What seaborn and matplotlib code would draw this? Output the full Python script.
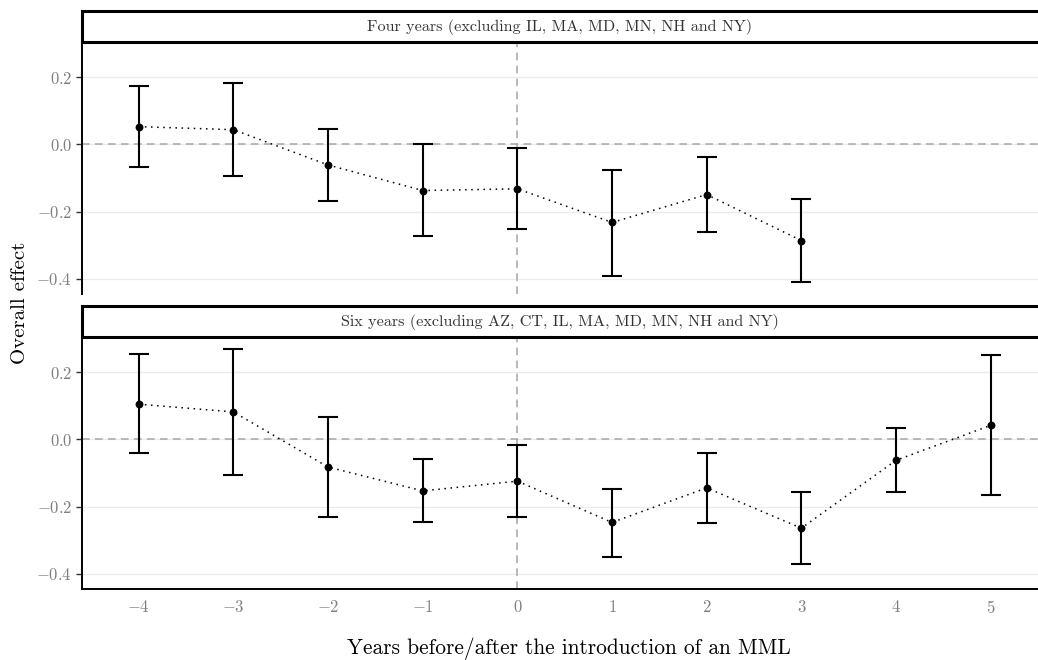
import matplotlib
matplotlib.use("Agg")
import matplotlib.pyplot as plt
import seaborn as sns
import numpy as np
import pandas as pd
from matplotlib.patches import Rectangle

sns.set_theme(style="white")
plt.rcParams["font.family"] = ["cmr10", "DejaVu Serif"]
plt.rcParams["mathtext.fontset"] = "cm"
plt.rcParams["axes.formatter.use_mathtext"] = True
plt.rcParams["axes.unicode_minus"] = True

# Event-time estimates and confidence bounds
years_four = [-4, -3, -2, -1, 0, 1, 2, 3]
est_four = [0.053, 0.044, -0.061, -0.137, -0.132, -0.232, -0.149, -0.286]
lo_four = [-0.067, -0.093, -0.167, -0.273, -0.253, -0.391, -0.261, -0.408]
hi_four = [0.174, 0.182, 0.046, 0.000, -0.011, -0.076, -0.037, -0.163]

years_six = [-4, -3, -2, -1, 0, 1, 2, 3, 4, 5]
est_six = [0.105, 0.082, -0.082, -0.153, -0.124, -0.247, -0.144, -0.264, -0.062, 0.042]
lo_six = [-0.041, -0.105, -0.230, -0.247, -0.232, -0.351, -0.249, -0.372, -0.157, -0.166]
hi_six = [0.254, 0.269, 0.067, -0.059, -0.016, -0.146, -0.039, -0.157, 0.033, 0.251]

panel_titles = [
    "Four years (excluding IL, MA, MD, MN, NH and NY)",
    "Six years (excluding AZ, CT, IL, MA, MD, MN, NH and NY)",
]
x_ticks = [-4, -3, -2, -1, 0, 1, 2, 3, 4, 5]
y_ticks = [-0.4, -0.2, 0.0, 0.2]

panels = [
    pd.DataFrame({"year": years_four, "est": est_four, "lo": lo_four, "hi": hi_four}),
    pd.DataFrame({"year": years_six, "est": est_six, "lo": lo_six, "hi": hi_six}),
]

W, H = 1038, 660
fig = plt.figure(figsize=(W / 100, H / 100), dpi=100)

def fx(px):
    return px / W

def fy(py):
    return 1 - py / H

left, right = 82, 1038
panel_px = [(42, 294), (337, 589)]
strip_px = [(11, 42), (306, 337)]

tick_grey = "#7f7f7f"
axes = []
for i, (df, (top, bot), (stop, sbot), title) in enumerate(
        zip(panels, panel_px, strip_px, panel_titles)):
    ax = fig.add_axes([fx(left), fy(bot), fx(right - left), (bot - top) / H])
    axes.append(ax)
    ax.set_xlim(-4.6, 5.5)
    ax.set_ylim(-0.445, 0.305)

    # Light horizontal grid
    for yt in y_ticks:
        ax.axhline(yt, color="#ebebeb", lw=0.9, zorder=0)
    # Reference lines
    ax.axhline(0, color="#a6a6a6", lw=1.1, ls=(0, (5, 3.5)), zorder=1)
    ax.axvline(0, color="#a6a6a6", lw=1.1, ls=(0, (5, 3.5)), zorder=1)

    # Dotted path through the point estimates
    sns.lineplot(data=df, x="year", y="est", ax=ax, color="black", lw=1.1,
                 linestyle=(0, (1, 3)), sort=True, zorder=3)
    # Confidence intervals
    ax.errorbar(df["year"], df["est"],
                yerr=[df["est"] - df["lo"], df["hi"] - df["est"]],
                fmt="none", ecolor="black", elinewidth=1.5,
                capsize=7.5, capthick=1.5, zorder=4)
    sns.scatterplot(data=df, x="year", y="est", ax=ax, color="black", s=32,
                    edgecolor="black", linewidth=0, zorder=5)

    ax.set_yticks(y_ticks)
    ax.set_yticklabels(["$-0.4$", "$-0.2$", "$0.0$", "$0.2$"])
    ax.set_xticks(x_ticks)
    if i == 1:
        ax.set_xticklabels([f"${t}$" if t >= 0 else f"$-{abs(t)}$" for t in x_ticks])
    else:
        ax.tick_params(axis="x", bottom=False, labelbottom=False)
    ax.tick_params(axis="y", left=True, length=4, width=1.0, color="#333333",
                   labelsize=12, labelcolor=tick_grey, pad=3)
    ax.tick_params(axis="x", length=4, width=1.0, color="#333333",
                   labelsize=12, labelcolor=tick_grey, pad=3)
    ax.set_xlabel("")
    ax.set_ylabel("")

    for side in ["top", "right"]:
        ax.spines[side].set_visible(False)
    ax.spines["left"].set_color("black")
    ax.spines["left"].set_linewidth(1.4)
    if i == 1:
        ax.spines["bottom"].set_color("black")
        ax.spines["bottom"].set_linewidth(1.4)
    else:
        ax.spines["bottom"].set_visible(False)

    # Facet strip
    sax = fig.add_axes([fx(left), fy(sbot), fx(right - left), (sbot - stop) / H])
    sax.set_xlim(0, 1)
    sax.set_ylim(0, 1)
    sax.axis("off")
    sax.add_patch(Rectangle((0, 0), 1.2, 1, facecolor="white", edgecolor="black",
                            lw=2.2, clip_on=False, transform=sax.transAxes))
    sax.text(0.5, 0.47, title, ha="center", va="center", fontsize=11.6,
             color="#333333")

fig.text(fx(20), fy(303), "Overall effect", rotation=90, ha="center",
         va="center", fontsize=15, color="black")
fig.text(fx(569), fy(649), "Years before/after the introduction of an MML",
         ha="center", va="center", fontsize=15.4, color="black")

fig.savefig("out.png", dpi=100)
